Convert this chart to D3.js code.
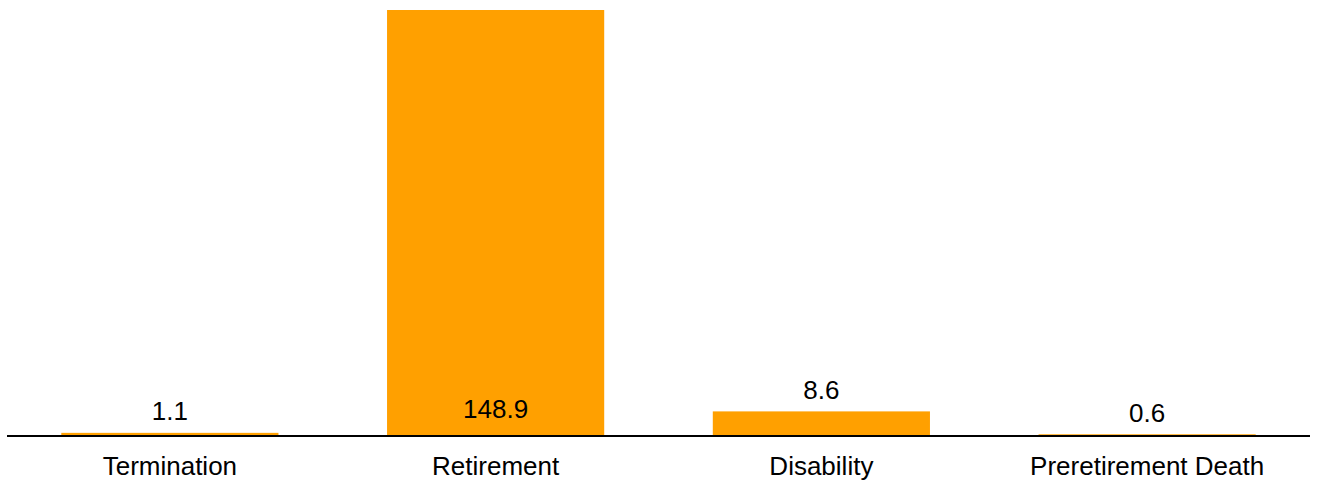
<!DOCTYPE html>
<html>
<head>
<meta charset="utf-8">
<script src="https://cdn.jsdelivr.net/npm/d3@7"></script>
<style>
  html, body { margin: 0; padding: 0; background: #fff; }
  text { font-family: "Liberation Sans", Arial, sans-serif; }
</style>
</head>
<body>
<svg id="chart" width="1317" height="481"></svg>
<script>
const categories = ["Termination", "Retirement", "Disability", "Preretirement Death"];
const values = [1.1, 148.9, 8.6, 0.6];
const valueLabels = ["1.1", "148.9", "8.6", "0.6"];

const svg = d3.select("#chart");
const left = 7, right = 1310, baseY = 436, topY = 10;

const x = d3.scaleBand().domain(categories).range([left, right])
  .paddingInner(1/3).paddingOuter(1/6);
const y = d3.scaleLinear().domain([0, d3.max(values)]).range([baseY, topY]);

const data = categories.map((c, i) => ({ c, v: values[i], label: valueLabels[i] }));

svg.selectAll("rect.bar").data(data).enter().append("rect")
  .attr("class", "bar")
  .attr("x", d => x(d.c))
  .attr("width", x.bandwidth())
  .attr("y", d => y(d.v))
  .attr("height", d => baseY - y(d.v))
  .attr("fill", "#FFA000");

const maxV = d3.max(values);
svg.selectAll("text.val").data(data).enter().append("text")
  .attr("class", "val")
  .attr("x", d => x(d.c) + x.bandwidth() / 2)
  .attr("y", d => d.v === maxV ? baseY - 18 : y(d.v) - 12.5)
  .attr("text-anchor", "middle")
  .attr("font-size", 26)
  .attr("fill", "#000")
  .text(d => d.label);

const xAxis = d3.axisBottom(x).tickSize(0).tickPadding(0);
const g = svg.append("g").attr("transform", `translate(0,${baseY})`).call(xAxis);
g.select(".domain").remove();
g.selectAll("text")
  .attr("y", 39)
  .attr("dy", null)
  .attr("font-size", 26)
  .attr("font-family", "Liberation Sans, Arial, sans-serif")
  .attr("fill", "#000");

svg.append("line")
  .attr("x1", left).attr("x2", right)
  .attr("y1", baseY).attr("y2", baseY)
  .attr("stroke", "#000").attr("stroke-width", 2);
</script>
</body>
</html>
